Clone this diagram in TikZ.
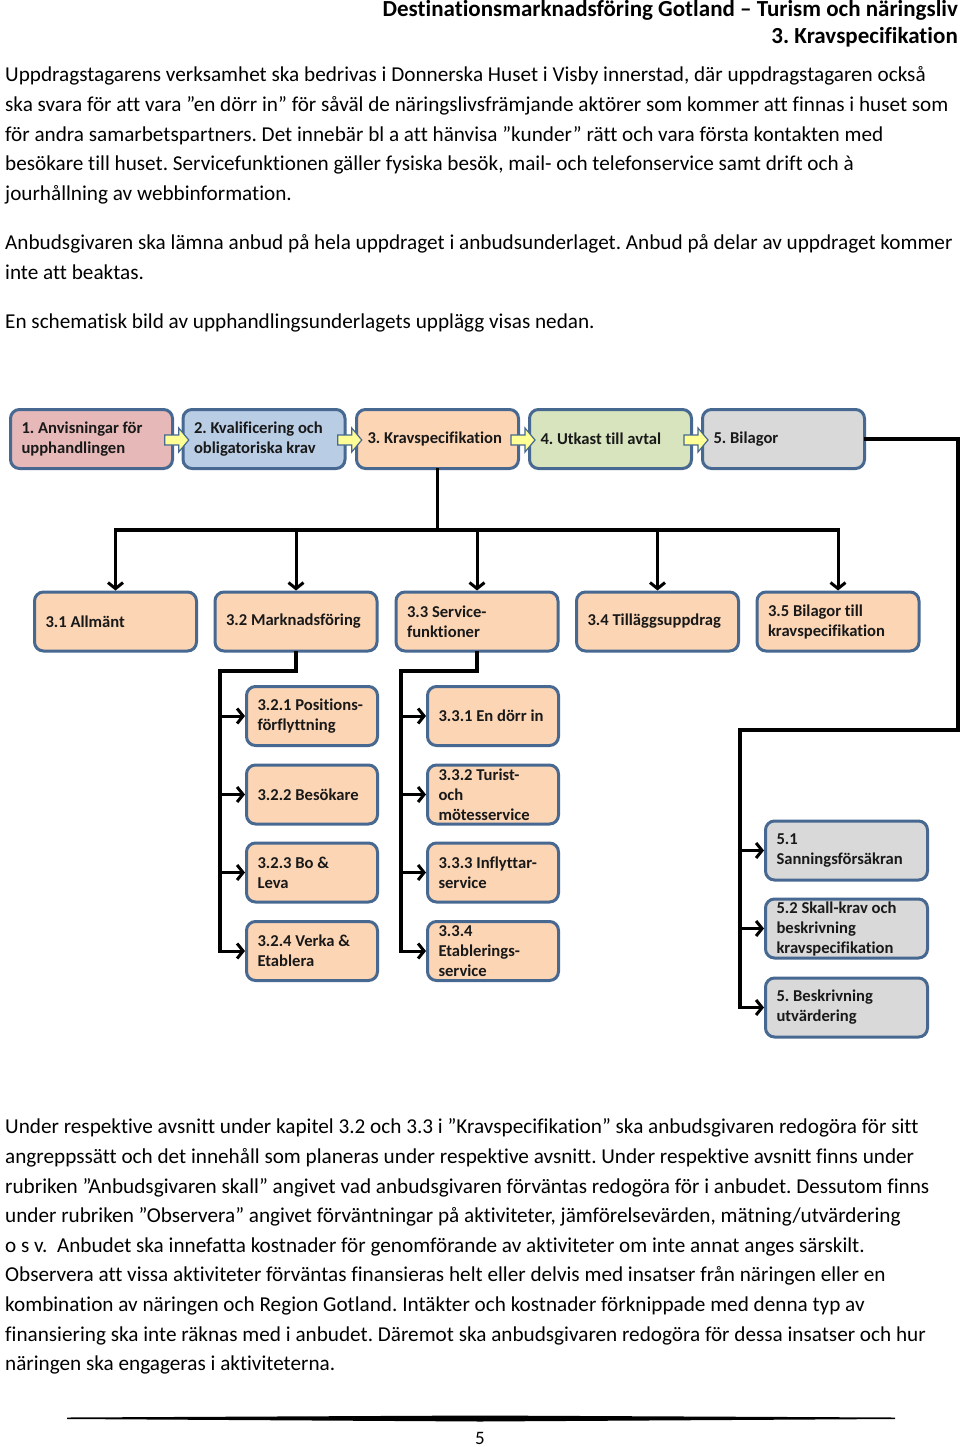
\documentclass[tikz,border=0pt]{standalone}
\usepackage{fontspec}
\setmainfont{Carlito}[Ligatures=NoCommon]
\usetikzlibrary{arrows.meta,calc}
\definecolor{boxline}{RGB}{70,104,145}
\definecolor{pinkbox}{RGB}{230,185,184}
\definecolor{bluebox}{RGB}{185,205,229}
\definecolor{peachbox}{RGB}{252,213,181}
\definecolor{greenbox}{RGB}{215,228,189}
\definecolor{graybox}{RGB}{217,217,217}
\definecolor{pointeryellow}{RGB}{255,255,150}
\frenchspacing
\begin{document}
\begin{tikzpicture}[x=1pt, y=-1pt,
  txt/.style={anchor=base west, inner sep=0pt, font=\fontsize{21.2}{30}\selectfont},
  headtxt/.style={anchor=base east, inner sep=0pt, font=\bfseries\fontsize{23}{27}\selectfont},
  box/.style={draw=boxline, line width=3pt, rounded corners=9pt, align=flush left,
    inner xsep=11pt, inner ysep=0pt, minimum height=59pt,
    font=\bfseries\fontsize{16.6}{20}\selectfont, text=black!90},
  wide/.style={box, text width=140pt},
  slim/.style={box, text width=109pt},
  conn/.style={line width=3.5pt, line cap=rect},
  branch/.style={line width=3pt, -{Straight Barb[length=6pt,width=15pt]}},
  pointer/.style={draw=boxline, line width=1.2pt, fill=pointeryellow}]
  \useasboundingbox (0,0) rectangle (960,1447);

  \node[headtxt] (head1) at (958,17) {Destinationsmarknadsföring Gotland – Turism och näringsliv};
  \node[headtxt] (head2) at (958,44) {3. Kravspecifikation};

  \foreach \yy/\line [count=\i] in {
    82/{Uppdragstagarens verksamhet ska bedrivas i Donnerska Huset i Visby innerstad, där uppdragstagaren också},
    112/{ska svara för att vara ”en dörr in” för såväl de näringslivsfrämjande aktörer som kommer att finnas i huset som},
    142/{för andra samarbetspartners. Det innebär bl a att hänvisa ”kunder” rätt och vara första kontakten med},
    171/{besökare till huset. Servicefunktionen gäller fysiska besök, mail- och telefonservice samt drift och à},
    201/{jourhållning av webbinformation.},
    250/{Anbudsgivaren ska lämna anbud på hela uppdraget i anbudsunderlaget. Anbud på delar av uppdraget kommer},
    279/{inte att beaktas.},
    328/{En schematisk bild av upphandlingsunderlagets upplägg visas nedan.},
    1133/{Under respektive avsnitt under kapitel 3.2 och 3.3 i ”Kravspecifikation” ska anbudsgivaren redogöra för sitt},
    1163/{angreppssätt och det innehåll som planeras under respektive avsnitt. Under respektive avsnitt finns under},
    1193/{rubriken ”Anbudsgivaren skall” angivet vad anbudsgivaren förväntas redogöra för i anbudet. Dessutom finns},
    1222/{under rubriken ”Observera” angivet förväntningar på aktiviteter, jämförelsevärden, mätning/utvärdering},
    1252/{o s v.~ Anbudet ska innefatta kostnader för genomförande av aktiviteter om inte annat anges särskilt.},
    1281/{Observera att vissa aktiviteter förväntas finansieras helt eller delvis med insatser från näringen eller en},
    1311/{kombination av näringen och Region Gotland. Intäkter och kostnader förknippade med denna typ av},
    1341/{finansiering ska inte räknas med i anbudet. Däremot ska anbudsgivaren redogöra för dessa insatser och hur},
    1370/{näringen ska engageras i aktiviteterna.}}
    \node[txt] (line\i) at (5,\yy) {\line};

  \node[wide, fill=pinkbox] (b1) at (91.5,439) {1. Anvisningar för\\upphandlingen};
  \node[wide, fill=bluebox] (b2) at (264,439) {2. Kvalificering och\\obligatoriska krav};
  \node[wide, fill=peachbox] (b3) at (437.5,439) {3. Kravspecifikation};
  \node[wide, fill=greenbox] (b4) at (610.5,439) {4. Utkast till avtal};
  \node[wide, fill=graybox] (b5) at (783.5,439) {5. Bilagor};
  \foreach \a/\b in {b1/b2, b2/b3, b3/b4, b4/b5} {
    \coordinate (m) at ($(\a.east)!0.5!(\b.west)+(0,1)$);
    \draw[pointer] ($(m)+(-13,-5)$) -- ++(14,0) -- ++(0,-7) -- ++(10,12)
      -- ++(-10,12) -- ++(0,-7) -- ++(-14,0) -- cycle;
  }

  \node[wide, fill=peachbox] (c31) at (115.5,621.5) {3.1 Allmänt};
  \node[wide, fill=peachbox] (c32) at (296,621.5) {3.2 Marknadsföring};
  \node[wide, fill=peachbox] (c33) at (477,621.5) {3.3 Service-\\funktioner};
  \node[wide, fill=peachbox] (c34) at (657.5,621.5) {3.4 Tilläggsuppdrag};
  \node[wide, fill=peachbox] (c35) at (838,621.5) {3.5 Bilagor till\\kravspecifikation};

  \node[slim, fill=peachbox] (d321) at (312,716) {3.2.1 Positions-\\förflyttning};
  \node[slim, fill=peachbox] (d322) at (312,794.5) {3.2.2 Besökare};
  \node[slim, fill=peachbox] (d323) at (312,872.5) {3.2.3 Bo \&\\Leva};
  \node[slim, fill=peachbox] (d324) at (312,951) {3.2.4 Verka \&\\Etablera};
  \node[slim, fill=peachbox] (d331) at (493,716) {3.3.1 En dörr in};
  \node[slim, fill=peachbox] (d332) at (493,794.5) {3.3.2 Turist-\\och\\mötesservice};
  \node[slim, fill=peachbox] (d333) at (493,872.5) {3.3.3 Inflyttar-\\service};
  \node[slim, fill=peachbox] (d334) at (493,951) {3.3.4\\Etablerings-\\service};

  \node[wide, fill=graybox] (e51) at (846.5,850.5) {5.1\\Sanningsförsäkran};
  \node[wide, fill=graybox] (e52) at (846.5,928.5) {5.2 Skall-krav och\\beskrivning\\kravspecifikation};
  \node[wide, fill=graybox] (e53) at (846.5,1007.5) {5. Beskrivning\\utvärdering};

  \coordinate (bar) at (0,530);
  \draw[conn] (b3.south) -- (b3.south |- bar);
  \draw[conn] (c31.north |- bar) -- (c35.north |- bar);
  \foreach \n in {c31, c32, c33, c34, c35}
    \draw[branch] (\n.north |- bar) -- (\n.north);

  \coordinate (s2) at (220,671);
  \draw[conn] (c32.south) |- (s2) -- (s2 |- d324.west);
  \foreach \n in {d321, d322, d323, d324}
    \draw[branch] (s2 |- \n.west) -- (\n.west);

  \coordinate (s3) at (401,671);
  \draw[conn] (c33.south) |- (s3) -- (s3 |- d334.west);
  \foreach \n in {d331, d332, d333, d334}
    \draw[branch] (s3 |- \n.west) -- (\n.west);

  \coordinate (s5) at (740,730);
  \draw[conn] (b5.east) -| (958,730) -- (s5) -- (s5 |- e53.west);
  \foreach \n in {e51, e52, e53}
    \draw[branch] (s5 |- \n.west) -- (\n.west);

  \fill (67,1417.5) -- (480,1415.5) -- (895,1417.5) -- (895,1419) -- (480,1421.5) -- (67,1419) -- cycle;
  \node[font=\fontsize{19}{20}\selectfont, inner sep=0pt] (pagenum) at (480,1438) {5};
\end{tikzpicture}
\end{document}
